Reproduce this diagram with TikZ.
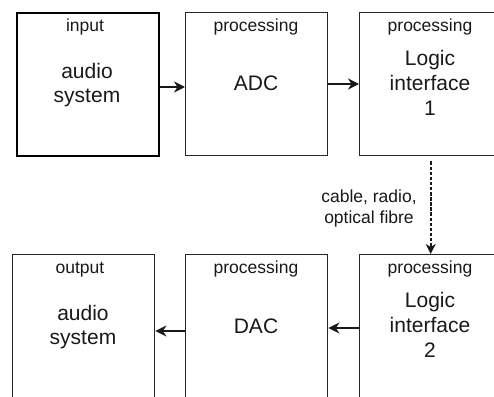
\documentclass[tikz,border=0pt]{standalone}
\usepackage{fontspec}
\setmainfont{Liberation Sans}
\usetikzlibrary{arrows.meta}
\begin{document}
\begin{tikzpicture}[x=1pt,y=-1pt,
 box/.style={draw=black!85, line width=1.4pt, minimum width=142pt, minimum height=143pt, inner sep=0pt, anchor=north west},
 big/.style={font=\fontsize{21}{24}\selectfont, text=black!90, inner sep=0pt, anchor=base},
 small/.style={font=\fontsize{17.5}{21}\selectfont, text=black!90, inner sep=0pt, anchor=base},
 arr/.style={line width=2.3pt, draw=black!90, -{Stealth[length=11pt,width=11pt,inset=3.5pt]}},
 darr/.style={line width=2pt, draw=black!90, dash pattern=on 3.5pt off 1.6pt, -{Stealth[length=10pt,width=10pt,inset=3pt]}}]
\clip (0,0) rectangle (494,396);
\fill[white] (0,0) rectangle (494,396);
% top row
\node[box, draw=black, line width=2.4pt] (b1) at (16,12) {};
\node[box] (b2) at (185,12) {};
\node[box] (b3) at (359,12) {};
% bottom row
\node[box] (b4) at (12,254) {};
\node[box] (b5) at (185,254) {};
\node[box] (b6) at (359,254) {};
% texts box 1
\node[small] (t1a) at (85,32) {input};
\node[big] (t1b) at (87,78) {audio};
\node[big] (t1c) at (87,102) {system};
% box 2
\node[small] (t2a) at (256,32) {processing};
\node[big] (t2b) at (256,90) {ADC};
% box 3
\node[small] (t3a) at (430,32) {processing};
\node[big] (t3b) at (430,65) {Logic};
\node[big] (t3c) at (430,90) {interface};
\node[big] (t3d) at (430,115) {1};
% box 4
\node[small] (t4a) at (80,273) {output};
\node[big] (t4b) at (83,320) {audio};
\node[big] (t4c) at (83,344) {system};
% box 5
\node[small] (t5a) at (256,273) {processing};
\node[big] (t5b) at (256,333) {DAC};
% box 6
\node[small] (t6a) at (430,273) {processing};
\node[big] (t6b) at (430,307) {Logic};
\node[big] (t6c) at (430,332) {interface};
\node[big] (t6d) at (430,357) {2};
% link label
\node[small] (l1) at (369,202) {cable, radio,};
\node[small] (l2) at (369,223) {optical fibre};
% connectors
\draw[arr] (b1.east |- 0,87) -- (b2.west |- 0,87);
\draw[arr] (b2.east |- 0,84) -- (b3.west |- 0,84);
\coordinate (d0) at ([yshift=-5pt]b3.south);
\draw[darr] (d0) -- (b6.north);
\draw[arr] (b6.west |- 0,328) -- (b5.east |- 0,328);
\draw[arr] (b5.west |- 0,331) -- (b4.east |- 0,331);
\end{tikzpicture}
\end{document}
